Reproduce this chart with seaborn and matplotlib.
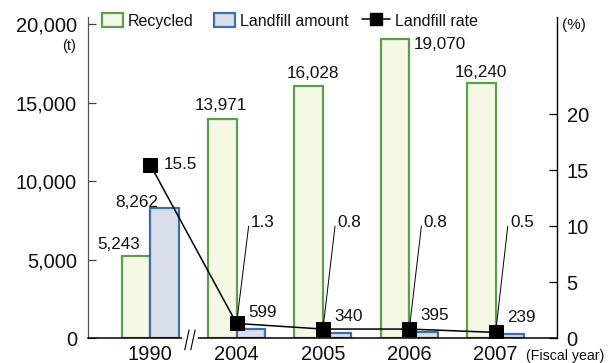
import numpy as np
import pandas as pd
import matplotlib
matplotlib.use("Agg")
import matplotlib.pyplot as plt
import seaborn as sns
from matplotlib.patches import Patch, Rectangle
from matplotlib.lines import Line2D
from matplotlib.legend_handler import HandlerPatch
from matplotlib.ticker import FuncFormatter
from matplotlib.transforms import blended_transform_factory

# ---- data ----
years = ["1990", "2004", "2005", "2006", "2007"]
recycled = [5243, 13971, 16028, 19070, 16240]
landfill = [8262, 599, 340, 395, 239]
landfill_rate = [15.5, 1.3, 0.8, 0.8, 0.5]
left_ticks = [0, 5000, 10000, 15000, 20000]
right_ticks = [0, 5, 10, 15, 20]

# label offsets (styling)
rec_dx = [-0.20, -0.02, 0.05, 0.52, 0.0]
rec_dy = [700, 830, 830, -380, 700]
land_dx = [-0.32, 0.13, 0.13, 0.13, 0.13]
land_dy = [380, 1040, 1040, 1040, 1040]

sns.set_theme(style="white")
plt.rcParams['font.family'] = ['Liberation Sans', 'DejaVu Sans']
TXT = "#111111"

GREEN_FACE, GREEN_EDGE = "#f5f8e4", "#5aa04c"
BLUE_FACE, BLUE_EDGE = "#d9deea", "#3a70a8"

df = pd.DataFrame({
    "year": years * 2,
    "kind": ["Recycled"] * 5 + ["Landfill amount"] * 5,
    "value": recycled + landfill,
})

fig = plt.figure(figsize=(6.12, 3.63), dpi=100)
ax = fig.add_axes([88 / 612, 25 / 363, (557 - 88) / 612, (338 - 17) / 363])

sns.barplot(data=df, x="year", y="value", hue="kind", order=years,
            hue_order=["Recycled", "Landfill amount"],
            palette=[GREEN_FACE, BLUE_FACE], width=0.66, gap=0,
            saturation=1, ax=ax, legend=False, zorder=2)
for cont, ec in zip(ax.containers, [GREEN_EDGE, BLUE_EDGE]):
    for p in cont.patches:
        p.set_edgecolor(ec)
        p.set_linewidth(1.6)

ax.set_xlim(-0.72, 4.71)
ax.set_ylim(0, 20450)
ax.set_yticks(left_ticks)
ax.yaxis.set_major_formatter(FuncFormatter(lambda v, p: f"{int(v):,}"))
ax.set_xlabel("")
ax.set_ylabel("")
ax.tick_params(axis="y", direction="in", length=6, width=0.9, color="#444444",
               labelsize=14.5, pad=8, labelcolor=TXT, left=True)
ax.tick_params(axis="x", length=0, labelsize=14.5, pad=5, labelcolor=TXT)
for s in ["top", "right"]:
    ax.spines[s].set_visible(False)
ax.spines["left"].set_color("#555555")
ax.spines["left"].set_linewidth(0.9)
ax.spines["bottom"].set_color("black")
ax.spines["bottom"].set_linewidth(1.1)

# value labels for bars
for i, v in enumerate(recycled):
    ax.text(i - 0.165 + rec_dx[i], v + rec_dy[i], f"{v:,}", ha="center",
            va="center", fontsize=12.3, color=TXT, zorder=5)
for i, v in enumerate(landfill):
    ax.text(i + 0.165 + land_dx[i], v + land_dy[i], f"{v:,}", ha="center",
            va="center", fontsize=12.3, color=TXT, zorder=5)

# right axis: landfill rate
ax2 = ax.twinx()
ax2.set_position(ax.get_position())
xpos = np.arange(len(years))
# leader lines
for i, r in enumerate(landfill_rate):
    if i == 0:
        ax2.text(i + 0.16, r, f"{r}", ha="left", va="center", fontsize=12.3, color=TXT)
    else:
        ax2.plot([i, i + 0.14], [r, 10.0], color="black", lw=0.7, zorder=1)
        ax2.text(i + 0.165, 10.36, f"{r}", ha="left", va="center",
                 fontsize=12.3, color=TXT)
sns.lineplot(x=xpos, y=landfill_rate, ax=ax2, color="black", lw=1.1,
             marker="s", markersize=9.5, markeredgecolor="black",
             markerfacecolor="black", zorder=3)
ax2.set_xlim(-0.72, 4.71)
ax2.set_ylim(0, 28.7)
ax2.set_yticks(right_ticks)
ax2.tick_params(axis="y", direction="in", length=6, width=0.9, color="black",
                labelsize=14.5, pad=7, labelcolor=TXT, right=True)
for s in ["top", "left", "bottom"]:
    ax2.spines[s].set_visible(False)
ax2.spines["right"].set_color("black")
ax2.spines["right"].set_linewidth(1.0)
ax2.grid(False)
ax.grid(False)

# axis break marks between 1990 and 2004
trans = blended_transform_factory(ax.transData, ax.transAxes)
bx = 0.46
ax.plot([bx - 0.07, bx + 0.07], [0, 0], color="white", lw=3, transform=trans,
        clip_on=False, zorder=6)
for off in (-0.035, 0.035):
    ax.plot([bx + off - 0.025, bx + off + 0.025], [-0.037, 0.025], color="black",
            lw=0.8, transform=trans, clip_on=False, zorder=7)

# units
fig.text(76 / 612, 1 - 46 / 363, "(t)", ha="right", va="center", fontsize=10.5, color=TXT)
fig.text(562 / 612, 1 - 25 / 363, "(%)", ha="left", va="center", fontsize=11, color=TXT)
fig.text(526 / 612, 1 - 356 / 363, "(Fiscal year)", ha="left", va="center",
         fontsize=10.2, color=TXT)

# legend
def make_rect(legend, orig_handle, xdescent, ydescent, width, height, fontsize):
    w = 1.3 * fontsize
    return Rectangle((-xdescent + width - w, -ydescent), w, height)

handles = [
    Patch(facecolor=GREEN_FACE, edgecolor=GREEN_EDGE, lw=1.6, label="Recycled"),
    Patch(facecolor=BLUE_FACE, edgecolor=BLUE_EDGE, lw=1.6, label="Landfill amount"),
    Line2D([], [], color="black", lw=1.1, marker="s", markersize=8, label="Landfill rate"),
]
leg = fig.legend(handles=handles, loc="center left", bbox_to_anchor=(95 / 612, 1 - 21 / 363),
                 ncol=3, frameon=False, fontsize=11.5, handlelength=1.75,
                 handleheight=1.0, handletextpad=0.3, columnspacing=0.85,
                 borderpad=0, borderaxespad=0,
                 handler_map={Patch: HandlerPatch(patch_func=make_rect)})
for t in leg.get_texts():
    t.set_color(TXT)

fig.savefig("out.png", dpi=100)
